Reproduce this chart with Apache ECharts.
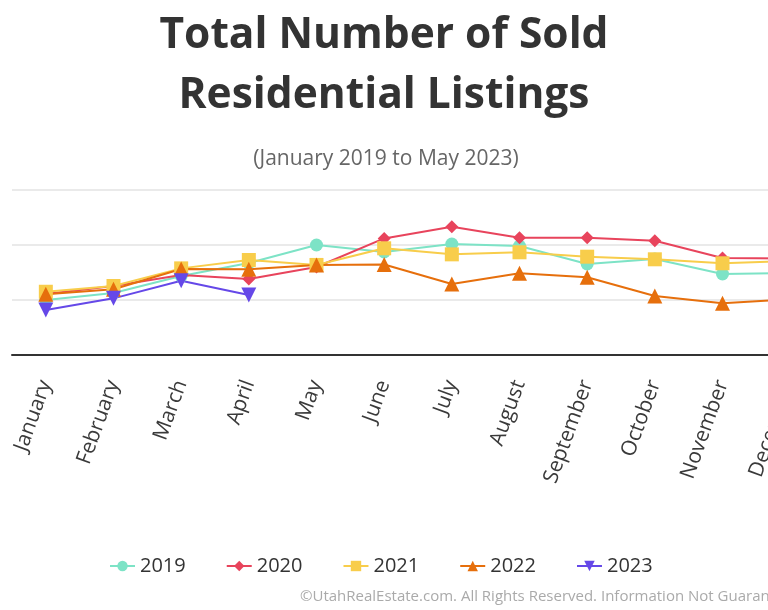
<!DOCTYPE html>
<html><head><meta charset="utf-8">
<script src="https://cdn.jsdelivr.net/npm/echarts@6/dist/echarts.min.js"></script>
<style>html,body{margin:0;padding:0;background:#fff;overflow:hidden;width:768px;height:610px}#c{width:840px;height:610px}</style>
</head><body><div id="c"></div>
<script>
const months = ['January','February','March','April','May','June','July','August','September','October','November','December'];
const s2019 = [2000, 2255, 2870, 3345, 4000, 3745, 4036, 3964, 3310, 3490, 2945, 2980];
const s2020 = [2220, 2510, 2910, 2765, 3200, 4240, 4665, 4265, 4265, 4155, 3530, 3510];
const s2021 = [2300, 2510, 3150, 3455, 3275, 3880, 3660, 3735, 3575, 3480, 3335, 3420];
const s2022 = [2210, 2390, 3125, 3115, 3275, 3290, 2580, 2970, 2825, 2145, 1880, 2030];
const s2023 = [1640, 2060, 2700, 2180];
const yTicks = [0, 2000, 4000, 6000];

const font = 'Open Sans';
const chart = echarts.init(document.getElementById('c'));
function mk(name, data, color, symbol, size){
  return {name, type:'line', data, symbol, symbolSize:size, color,
    lineStyle:{width:2, color}, itemStyle:{color}, emphasis:{disabled:true}};
}
chart.setOption({
  animation:false,
  title:[
    {text:'Total Number of Sold\nResidential Listings', left:379, textAlign:'center', top:1,
     textStyle:{fontFamily:font, fontWeight:'bold', fontSize:42.5, lineHeight:60, color:'#333'}},
    {text:'(January 2019 to May 2023)', left:381, textAlign:'center', top:144,
     textStyle:{fontFamily:font, fontWeight:'normal', fontSize:21, color:'#666'}}
  ],
  legend:{bottom:29, left:104, itemGap:40, itemWidth:25, itemHeight:13,
    textStyle:{fontFamily:font, fontSize:20, color:'#333'},
    data:['2019','2020','2021','2022','2023']},
  graphic:[{type:'text', left:300, top:589,
    style:{text:'©UtahRealEstate.com. All Rights Reserved. Information Not Guaranteed.', fontFamily:font, fontSize:15, fill:'#aaa'}}],
  grid:{left:12, top:190, right:16, height:165, containLabel:false},
  xAxis:{type:'category', data:months, boundaryGap:true,
    axisLine:{lineStyle:{color:'#333', width:2}}, axisTick:{show:false},
    axisLabel:{rotate:70, margin:26, fontFamily:font, fontSize:21, color:'#3a3a3a', interval:0}},
  yAxis:{type:'value', min:yTicks[0], max:yTicks[yTicks.length-1], interval:2000,
    axisLabel:{show:false}, axisLine:{show:false}, axisTick:{show:false},
    splitLine:{lineStyle:{color:'#e3e3e3', width:1.5}}},
  series:[
    mk('2019', s2019, '#7de3c6', 'circle', 13),
    mk('2020', s2020, '#e8445c', 'diamond', 13),
    mk('2021', s2021, '#f8cd4b', 'rect', 14),
    mk('2022', s2022, '#e66f0c', 'triangle', 15),
    mk('2023', s2023, '#6548e8', 'path://M0,0 L10,0 L5,10 Z', 15)
  ]
});
</script></body></html>
